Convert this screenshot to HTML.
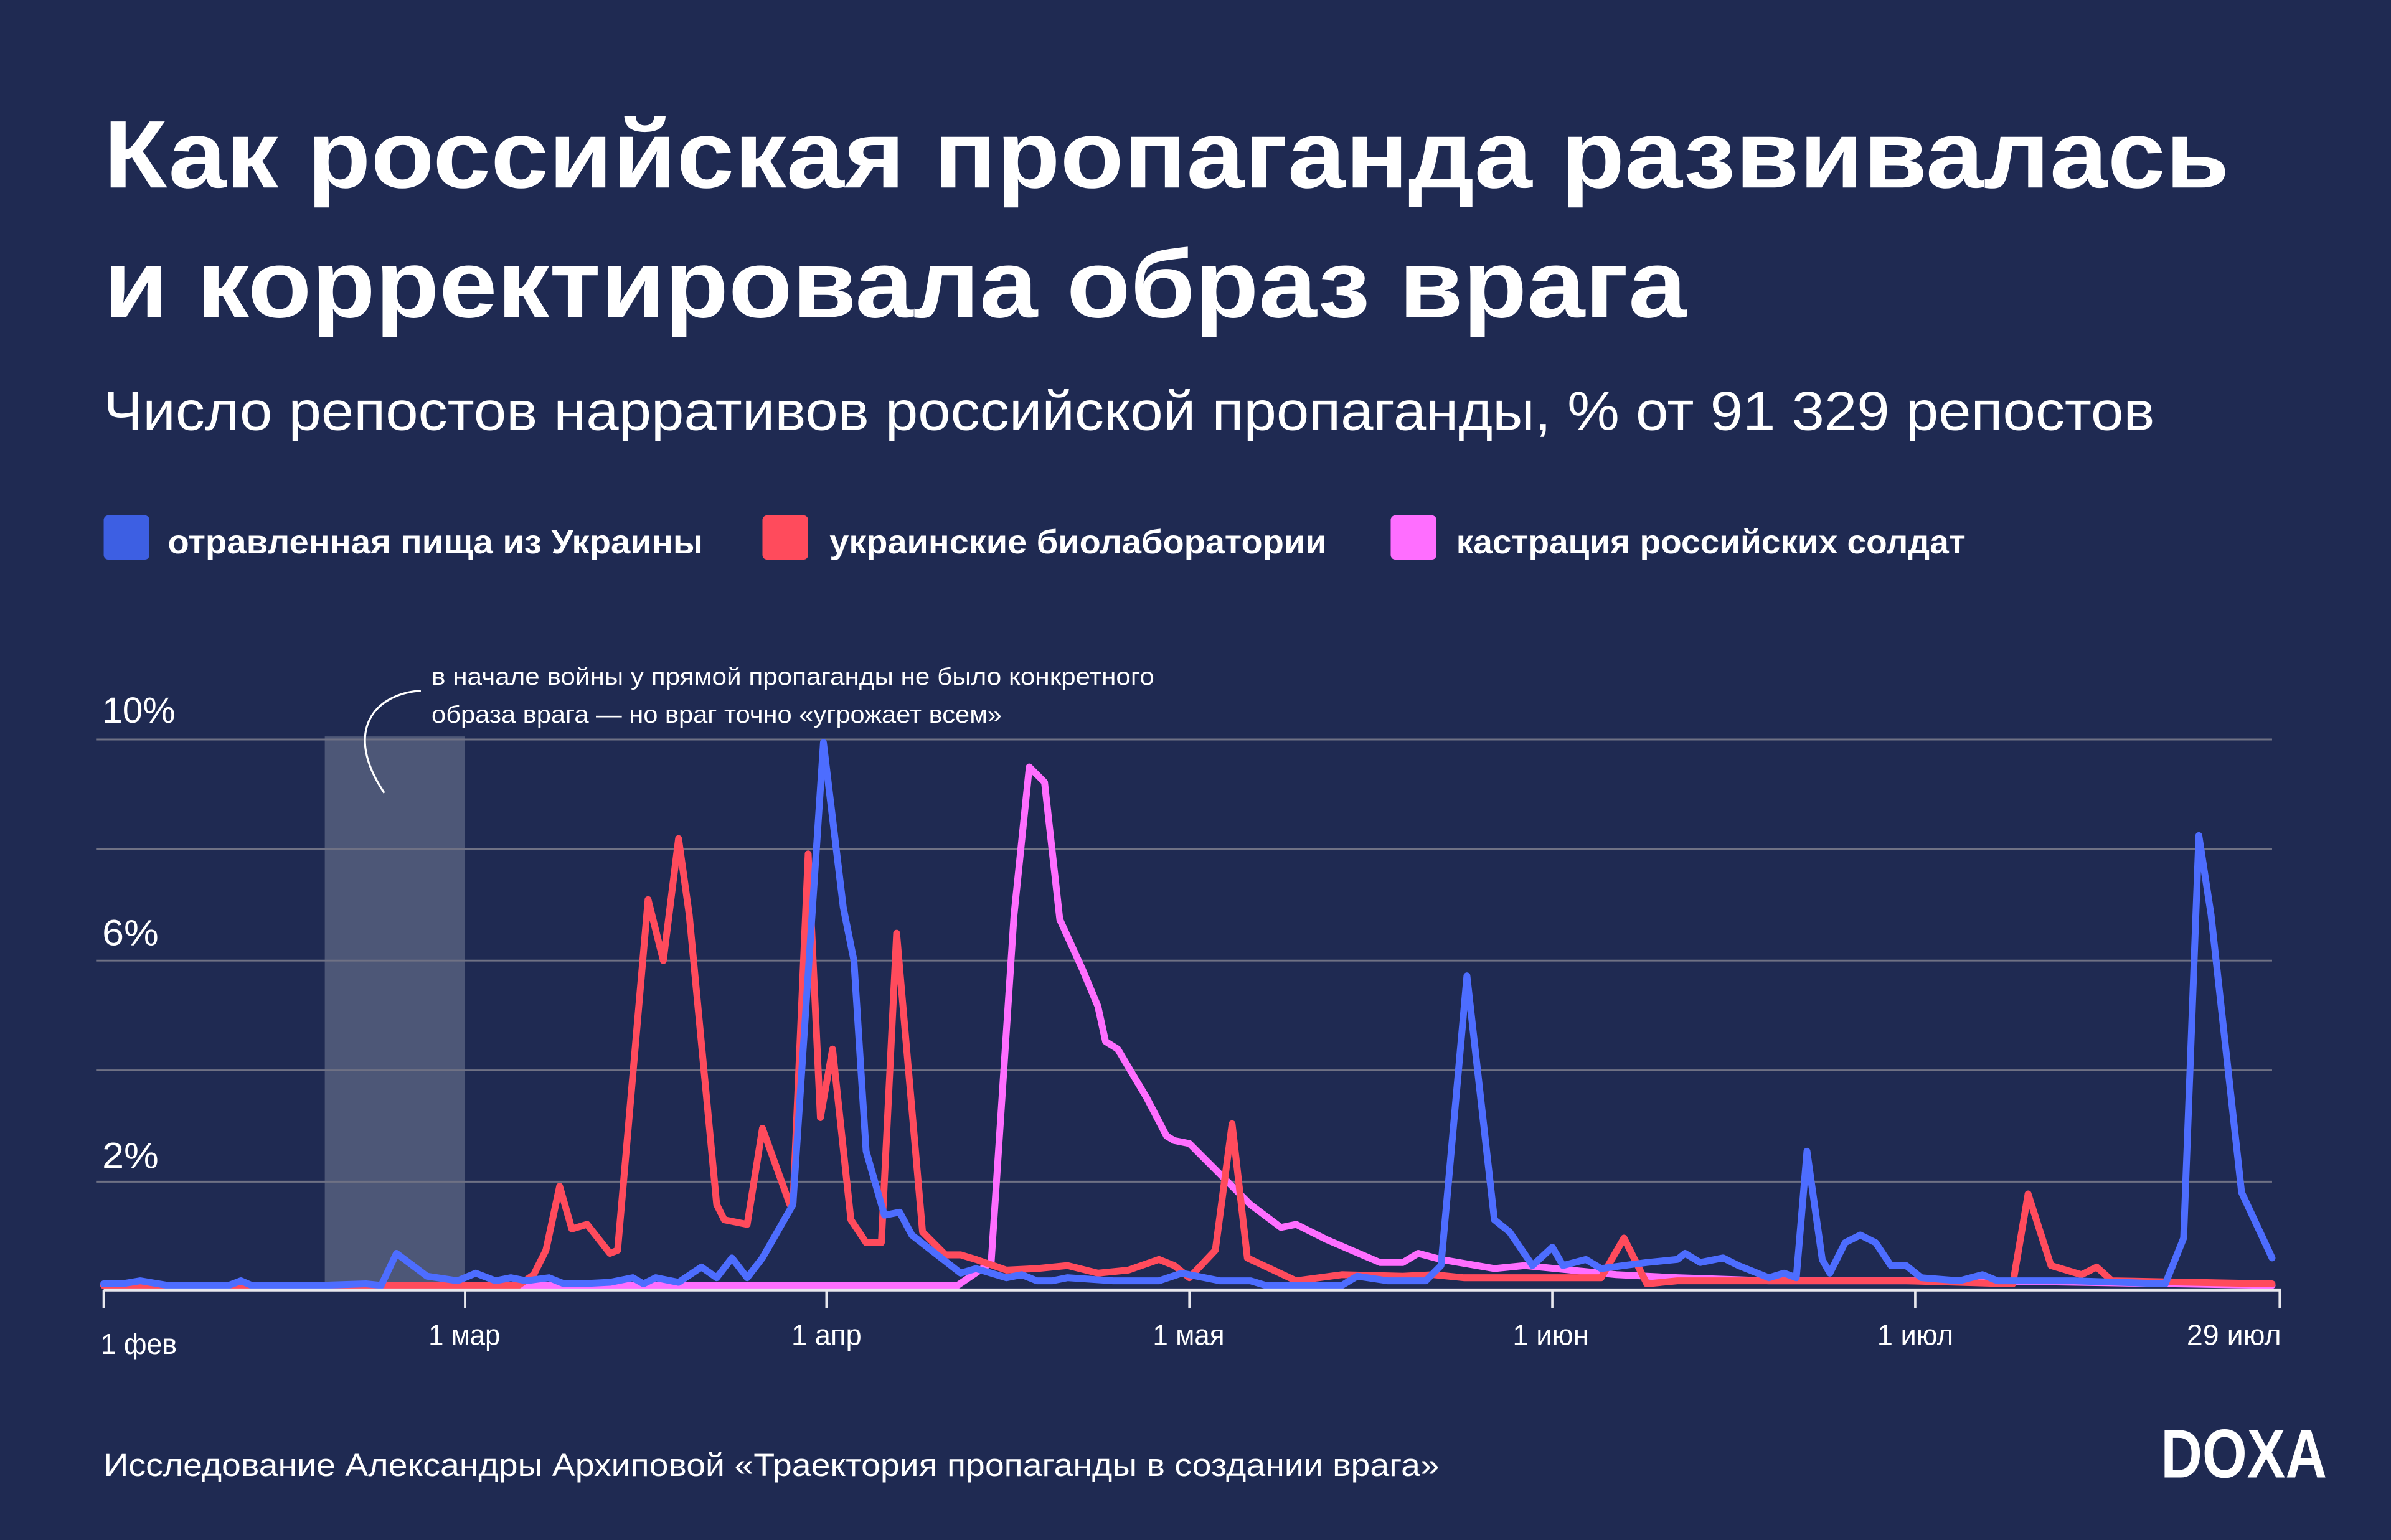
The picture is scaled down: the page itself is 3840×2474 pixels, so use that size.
<!DOCTYPE html>
<html><head><meta charset="utf-8"><style>
html,body{margin:0;padding:0;background:#1f2a52;}
svg{display:block}
text{font-family:"Liberation Sans","DejaVu Sans",sans-serif;fill:#fff}
.n{font-family:"Liberation Sans Narrow","Liberation Sans",sans-serif}
</style></head><body>
<svg width="3840" height="2474" viewBox="0 0 1568 1010" preserveAspectRatio="none" xmlns="http://www.w3.org/2000/svg">
<rect width="1568" height="1010" fill="#1f2a52"/>
<text x="68" y="123" font-size="63" font-weight="bold" textLength="1394" lengthAdjust="spacingAndGlyphs">Как российская пропаганда развивалась</text>
<text x="68" y="208" font-size="63" font-weight="bold" textLength="1038" lengthAdjust="spacingAndGlyphs">и корректировала образ врага</text>
<text x="68" y="282" font-size="36" textLength="1345" lengthAdjust="spacingAndGlyphs">Число репостов нарративов российской пропаганды, % от 91 329 репостов</text>
<rect x="68" y="338" width="30" height="29" rx="3" fill="#3d5fe3"/>
<rect x="500" y="338" width="30" height="29" rx="3" fill="#ff4b5c"/>
<rect x="912" y="338" width="30" height="29" rx="3" fill="#ff6eff"/>
<text x="110" y="363" font-size="22" font-weight="bold" textLength="351" lengthAdjust="spacingAndGlyphs">отравленная пища из Украины</text>
<text x="544" y="363" font-size="22" font-weight="bold" textLength="326" lengthAdjust="spacingAndGlyphs">украинские биолаборатории</text>
<text x="955" y="363" font-size="22" font-weight="bold" textLength="334" lengthAdjust="spacingAndGlyphs">кастрация российских солдат</text>
<rect x="213" y="483" width="92" height="363" fill="#4d5777"/>
<g stroke="#6f7184" stroke-width="1.2">
<line x1="63" y1="485" x2="1490" y2="485"/><line x1="63" y1="557" x2="1490" y2="557"/>
<line x1="63" y1="630" x2="1490" y2="630"/><line x1="63" y1="702" x2="1490" y2="702"/>
<line x1="63" y1="775" x2="1490" y2="775"/></g>
<text x="67" y="474" font-size="24" textLength="48" lengthAdjust="spacingAndGlyphs">10%</text>
<text x="67" y="620" font-size="24" textLength="37" lengthAdjust="spacingAndGlyphs">6%</text>
<text x="67" y="766" font-size="24" textLength="37" lengthAdjust="spacingAndGlyphs">2%</text>
<text class="n" x="283" y="449" font-size="16" textLength="474" lengthAdjust="spacingAndGlyphs">в начале войны у прямой пропаганды не было конкретного</text>
<text class="n" x="283" y="474" font-size="16" textLength="374" lengthAdjust="spacingAndGlyphs">образа врага — но враг точно «угрожает всем»</text>
<path d="M276,453 C245,455 225,480 252,520" fill="none" stroke="#fff" stroke-width="1.3"/>
<g fill="none" stroke-width="4.5" stroke-linejoin="round" stroke-linecap="round">
<polyline stroke="#ff6eff" points="68,843 300,843 628,843 650,828 665,600 675,503 685,513 695,603 710,636 720,660 725,683 733,688 752,720 765,745 770,748 780,750 800,770 820,790 840,805 850,803 870,813 905,828 920,828 930,822 945,826 980,832 1000,830 1030,833 1060,836 1100,838 1160,840 1300,840 1490,843"/>
<polyline stroke="#ff4b5c" points="68,843 340,843 350,836 358,820 367,778 375,806 385,803 400,822 405,820 425,590 435,630 445,550 452,600 470,790 475,800 490,803 500,740 518,790 520,790 530,560 538,733 546,688 558,800 568,815 578,815 588,612 605,808 620,823 630,823 640,826 660,833 680,832 700,830 720,835 740,833 760,826 770,830 780,838 797,820 808,737 818,825 850,840 880,836 920,837 940,836 960,838 1000,838 1050,838 1065,812 1080,842 1100,840 1250,840 1320,842 1330,783 1345,830 1365,836 1375,831 1385,840 1490,842"/>
<polyline stroke="#4d6dff" points="68,842 80,842 92,840 110,843 150,843 158,840 165,843 210,843 240,842 250,843 260,822 280,837 300,840 312,835 325,840 335,838 345,840 360,838 370,842 380,842 400,841 415,838 422,842 430,838 445,841 460,831 470,838 480,825 490,838 500,825 520,790 540,487 553,595 560,630 568,755 580,797 590,795 598,810 630,835 640,832 660,838 670,836 680,840 690,840 700,838 730,840 760,840 775,835 800,840 820,840 830,843 880,843 890,837 910,840 935,840 945,830 962,640 980,800 990,808 1005,830 1018,818 1025,830 1040,826 1050,832 1065,830 1080,828 1100,826 1105,822 1115,828 1130,825 1140,830 1160,838 1170,835 1178,838 1185,755 1195,826 1200,835 1210,815 1220,810 1230,815 1240,830 1250,830 1260,838 1285,840 1300,836 1310,840 1330,840 1360,840 1420,842 1432,812 1442,548 1450,600 1470,782 1490,825"/>
</g>
<line x1="68" y1="846" x2="1496" y2="846" stroke="#e8e8ee" stroke-width="2"/>
<g stroke="#e8e8ee" stroke-width="1.5">
<line x1="68" y1="846" x2="68" y2="858"/><line x1="305" y1="846" x2="305" y2="858"/><line x1="542" y1="846" x2="542" y2="858"/>
<line x1="780" y1="846" x2="780" y2="858"/><line x1="1018" y1="846" x2="1018" y2="858"/><line x1="1256" y1="846" x2="1256" y2="858"/><line x1="1495" y1="846" x2="1495" y2="858"/></g>
<g class="n" font-size="19">
<text class="n" x="66" y="888" textLength="50" lengthAdjust="spacingAndGlyphs">1 фев</text>
<text class="n" x="281" y="882" textLength="47" lengthAdjust="spacingAndGlyphs">1 мар</text>
<text class="n" x="519" y="882" textLength="46" lengthAdjust="spacingAndGlyphs">1 апр</text>
<text class="n" x="756" y="882" textLength="47" lengthAdjust="spacingAndGlyphs">1 мая</text>
<text class="n" x="992" y="882" textLength="50" lengthAdjust="spacingAndGlyphs">1 июн</text>
<text class="n" x="1231" y="882" textLength="50" lengthAdjust="spacingAndGlyphs">1 июл</text>
<text class="n" x="1434" y="882" textLength="62" lengthAdjust="spacingAndGlyphs">29 июл</text>
</g>
<text x="68" y="968" font-size="21" textLength="876" lengthAdjust="spacingAndGlyphs">Исследование Александры Архиповой «Траектория пропаганды в создании врага»</text>
<text x="1417" y="969" font-size="45" font-weight="bold" fill="#e8e8f0" textLength="109" lengthAdjust="spacingAndGlyphs">DOXA</text>
</svg>
</body></html>
